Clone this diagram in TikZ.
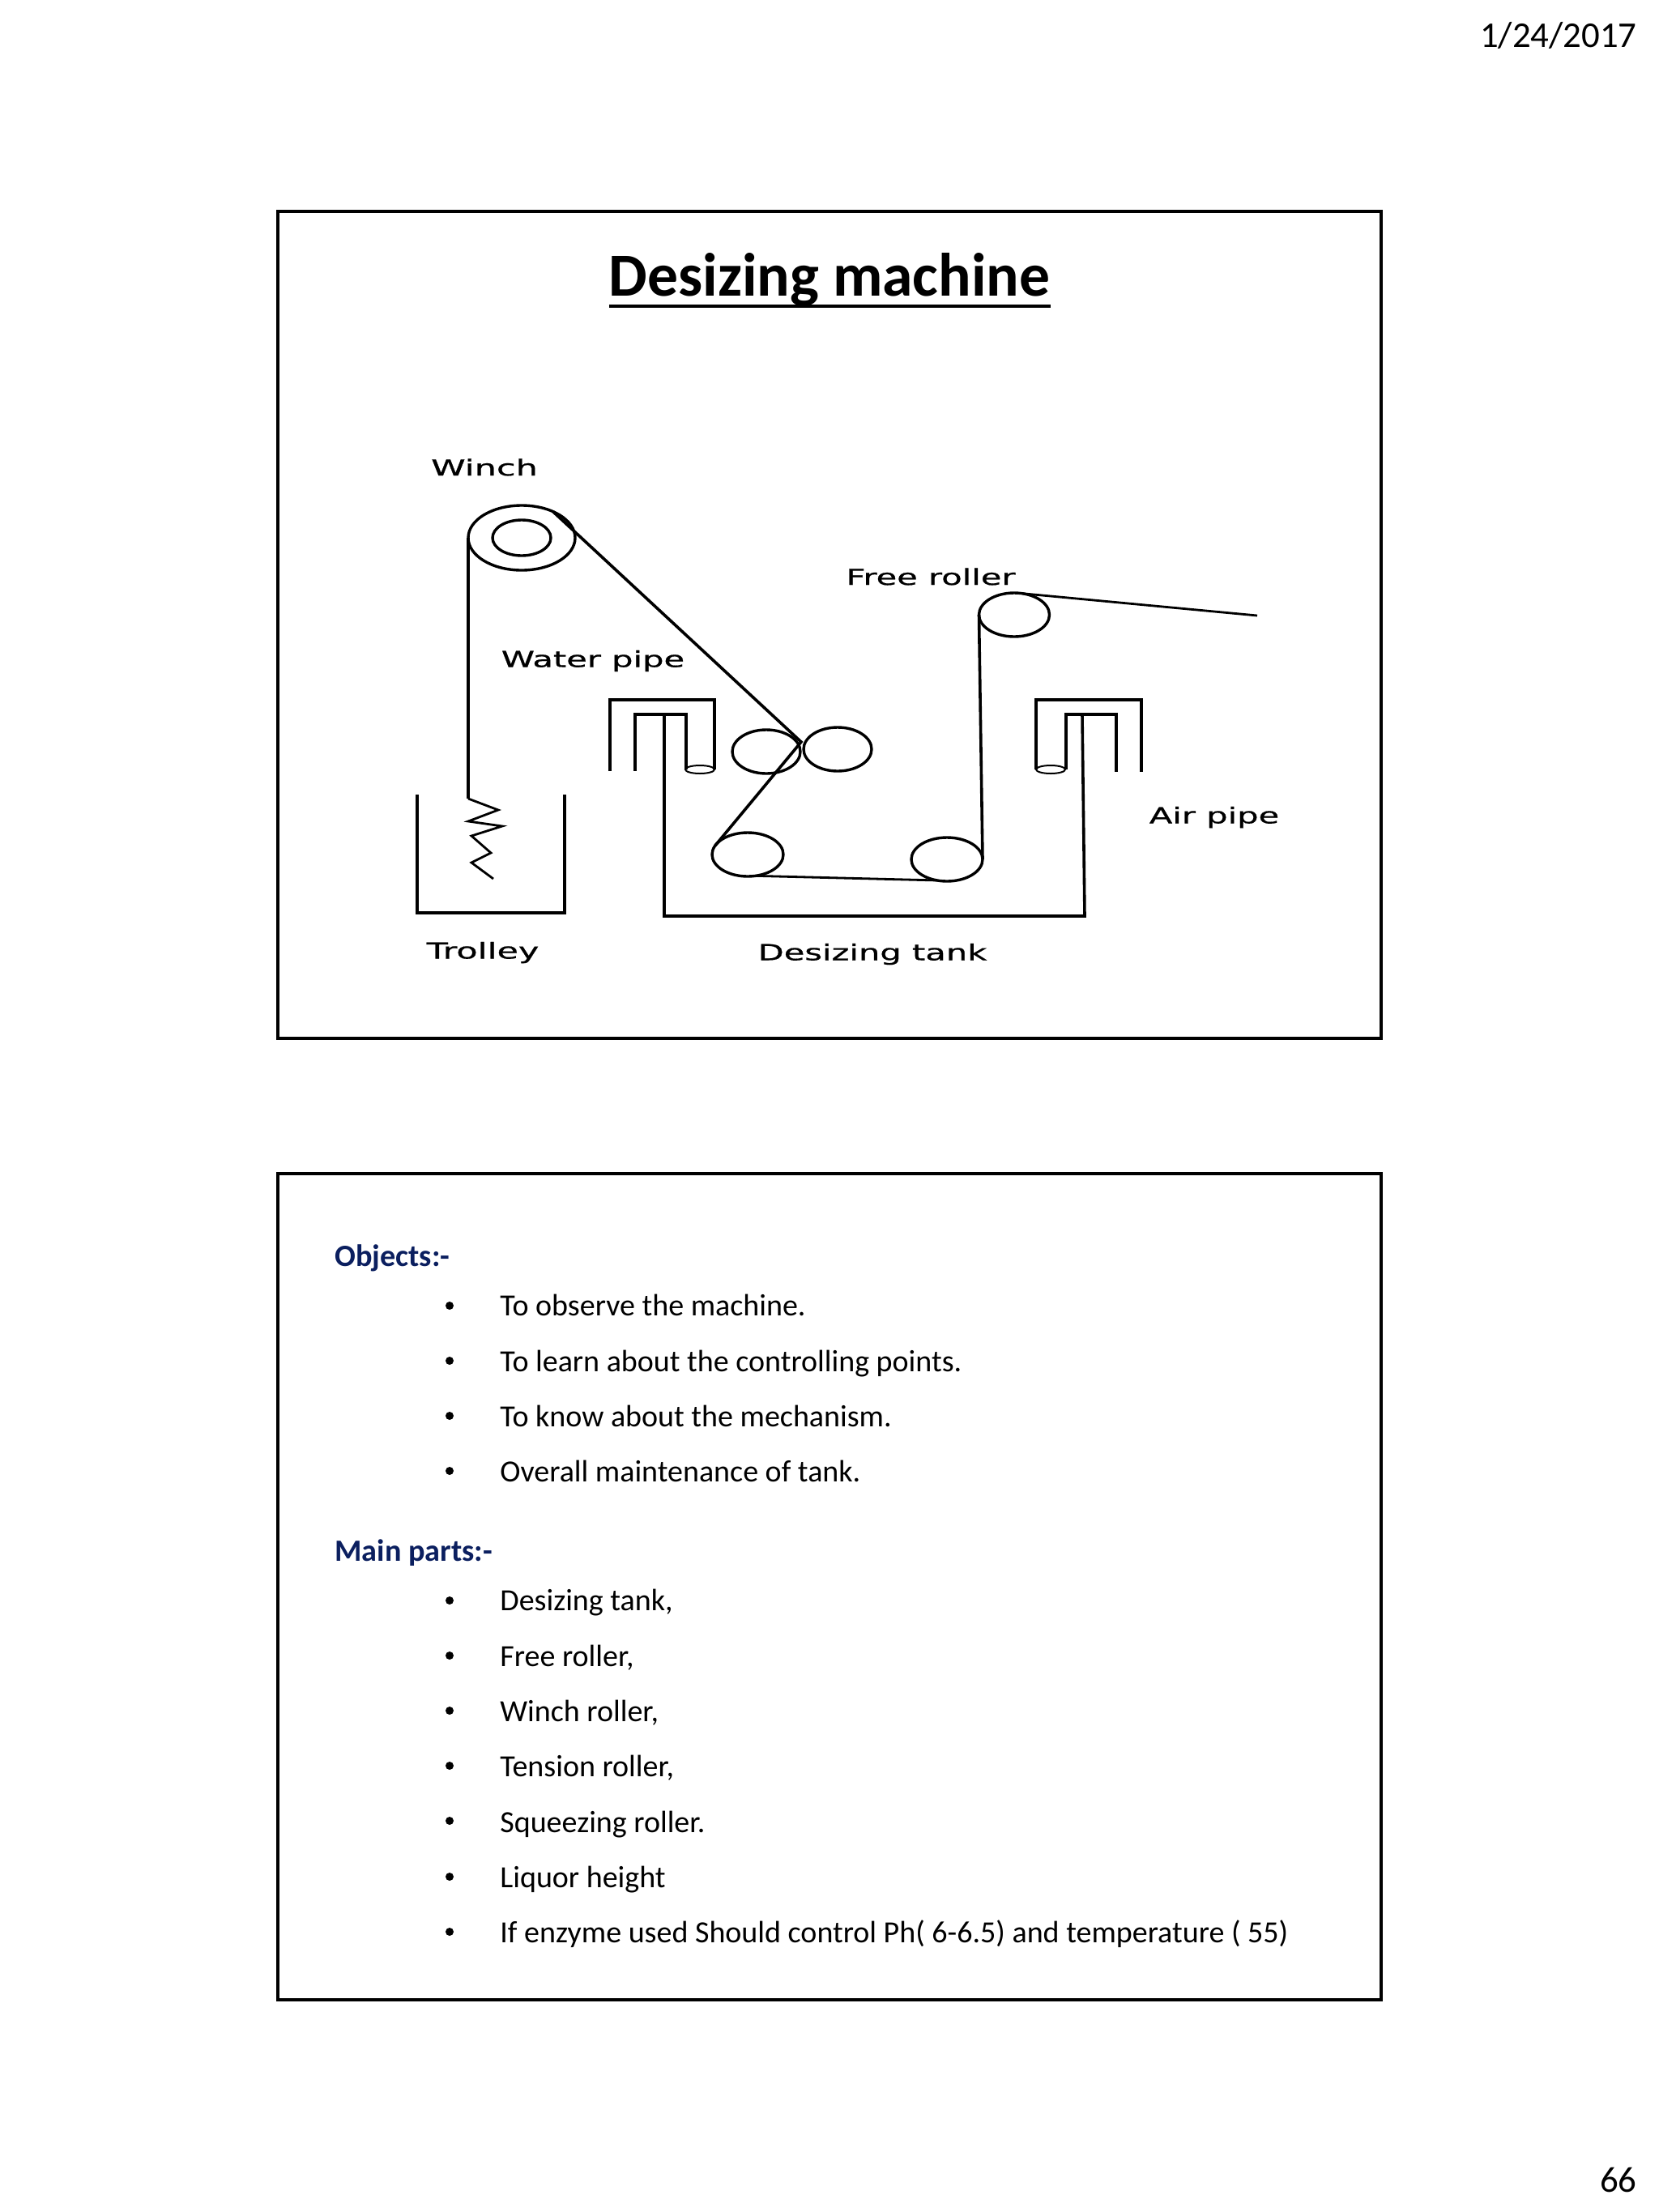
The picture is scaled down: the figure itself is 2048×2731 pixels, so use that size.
\documentclass[tikz,border=0pt]{standalone}
\usepackage{fontspec}
\setmainfont{Carlito}
\newfontfamily\labelfont[FakeBold=0.6]{DejaVu Sans}
\usetikzlibrary{shapes.geometric}
\definecolor{headblue}{HTML}{0B1F5F}
\newcommand{\lbl}[2][1.53]{\scalebox{#1}[1]{\labelfont\fontsize{13.6}{16}\selectfont #2}}
\tikzset{
  frame/.style={draw=black,line width=2pt},
  line/.style={draw=black,line width=1.8pt},
  thinline/.style={draw=black,line width=1.4pt},
  roller/.style n args={2}{ellipse,draw=black,line width=1.7pt,inner sep=0pt,outer sep=0pt,minimum width=#1pt,minimum height=#2pt},
  partlabel/.style={inner sep=0pt,anchor=center},
  body/.style={inner sep=0pt,anchor=base west,font=\fontsize{19}{23}\selectfont},
  head/.style={inner sep=0pt,anchor=base west,text=headblue,font=\fontsize{19.1}{23}\selectfont\bfseries},
  bul/.style={circle,fill=black,inner sep=0pt,minimum size=5pt},
  corner/.style={inner sep=0pt,anchor=base east,font=\fontsize{22.4}{26}\selectfont}
}
\begin{document}
\begin{tikzpicture}[x=0.5pt,y=-0.5pt]
\path[use as bounding box,fill=white] (0,0) rectangle (2048,2731);
% corner texts
\node[corner] (date) at (2021,58) {1/24/2017};
\node[corner] (page) at (2021,2706) {66};
% frames
\draw[frame] (343,261) rectangle (1705,1282);
\draw[frame] (343,1449) rectangle (1705,2469);
% title
\node[inner sep=0pt,anchor=base] (title) at (1024,365) {\fontsize{37.8}{42}\selectfont\bfseries Desizing machine};
\coordinate (ulA) at (752,378);
\coordinate (ulB) at (1297,378);
\draw[line width=2.2pt] (ulA) -- (ulB);
% rollers
\node[roller={66}{40}] (winch) at (644,664) {};
\node[roller={36}{22}] (winchin) at (644,664) {};
\node[roller={42}{27}] (sqL) at (946,928) {};
\node[roller={42}{27}] (sqR) at (1034,925) {};
\node[roller={44}{27}] (lowL) at (923,1055) {};
\node[roller={44}{27}] (lowR) at (1169,1061) {};
\node[roller={43.5}{27}] (free) at (1252,759) {};
% cloth path
\coordinate (zz0) at (578,986);
\coordinate (zz1) at (615,1000);
\coordinate (zz2) at (578,1014);
\coordinate (zz3) at (620,1020);
\coordinate (zz4) at (582,1032);
\coordinate (zz5) at (606,1053);
\coordinate (zz6) at (582,1065);
\coordinate (zz7) at (609,1085);
\coordinate (nip) at (989,916);
\coordinate (clothend) at (1552,760);
\draw[line] (winch.west) -- (zz0);
\draw[thinline,line join=miter] (zz0) -- (zz1) -- (zz2) -- (zz3) -- (zz4) -- (zz5) -- (zz6) -- (zz7);
\draw[line] (winch.40) -- (nip) -- (lowL.165);
\draw[thinline] (lowL.-70) -- (lowR.-115);
\draw[line] (lowR.east) -- (free.west);
\draw[thinline] (free.70) -- (clothend);
% trolley
\coordinate (trA) at (515,981);
\coordinate (trB) at (515,1127);
\coordinate (trC) at (697,1127);
\coordinate (trD) at (697,981);
\draw[line,line join=miter] (trA) -- (trB) -- (trC) -- (trD);
% water pipe
\coordinate (wpA) at (753,952);
\coordinate (wpB) at (753,864);
\coordinate (wpC) at (882,864);
\coordinate (wpD) at (882,950);
\coordinate (wpE) at (847,950);
\coordinate (wpF) at (847,882);
\coordinate (wpG) at (784,882);
\coordinate (wpH) at (784,952);
\draw[line,line join=miter] (wpA) -- (wpB) -- (wpC) -- (wpD);
\draw[line,line join=miter] (wpE) -- (wpF) -- (wpG) -- (wpH);
\node[roller={18}{5},line width=1pt] (wpend) at (864,950) {};
% air pipe
\coordinate (apA) at (1279,950);
\coordinate (apB) at (1279,864);
\coordinate (apC) at (1409,864);
\coordinate (apD) at (1409,953);
\coordinate (apE) at (1316,950);
\coordinate (apF) at (1316,882);
\coordinate (apG) at (1378,882);
\coordinate (apH) at (1378,953);
\draw[line,line join=miter] (apA) -- (apB) -- (apC) -- (apD);
\draw[line,line join=miter] (apE) -- (apF) -- (apG) -- (apH);
\node[roller={18}{5},line width=1pt] (apend) at (1297,950) {};
% tank
\coordinate (tkA) at (820,882);
\coordinate (tkB) at (820,1131);
\coordinate (tkC) at (1339,1131);
\coordinate (tkD) at (1336,882);
\draw[line,line join=miter] (tkA) -- (tkB) -- (tkC) -- (tkD);
% part labels
\node[partlabel] (lwinch) at (598,577) {\lbl[1.58]{Winch}};
\node[partlabel] (lwater) at (732,816) {\lbl{Water pipe}};
\node[partlabel] (lfree) at (1149,712) {\lbl{Free roller}};
\node[partlabel] (lair) at (1499,1009) {\lbl{Air pipe}};
\node[partlabel] (ltrolley) at (596,1176) {\lbl[1.58]{Trolley}};
\node[partlabel] (ltank) at (1077,1178) {\lbl{Desizing tank}};
% body text
\node[head] (h1) at (413,1563) {Objects:-};
\node[body] (o1) at (617,1624) {To observe the machine.};
\node[body] (o2) at (617,1693) {To learn about the controlling points.};
\node[body] (o3) at (617,1761) {To know about the mechanism.};
\node[body] (o4) at (617,1829) {Overall maintenance of tank.};
\node[head] (h2) at (413,1927) {Main parts:-};
\node[body] (p1) at (617,1988) {Desizing tank,};
\node[body] (p2) at (617,2057) {Free roller,};
\node[body] (p3) at (617,2125) {Winch roller,};
\node[body] (p4) at (617,2193) {Tension roller,};
\node[body] (p5) at (617,2262) {Squeezing roller.};
\node[body] (p6) at (617,2330) {Liquor height};
\node[body] (p7) at (617,2398) {If enzyme used Should control Ph( 6-6.5) and temperature ( 55)};
% bullets
\node[bul] (b1) at (555,1612) {};
\node[bul] (b2) at (555,1680) {};
\node[bul] (b3) at (555,1748) {};
\node[bul] (b4) at (555,1816) {};
\node[bul] (b5) at (555,1976) {};
\node[bul] (b6) at (555,2044) {};
\node[bul] (b7) at (555,2112) {};
\node[bul] (b8) at (555,2180) {};
\node[bul] (b9) at (555,2248) {};
\node[bul] (b10) at (555,2317) {};
\node[bul] (b11) at (555,2385) {};
\end{tikzpicture}
\end{document}
